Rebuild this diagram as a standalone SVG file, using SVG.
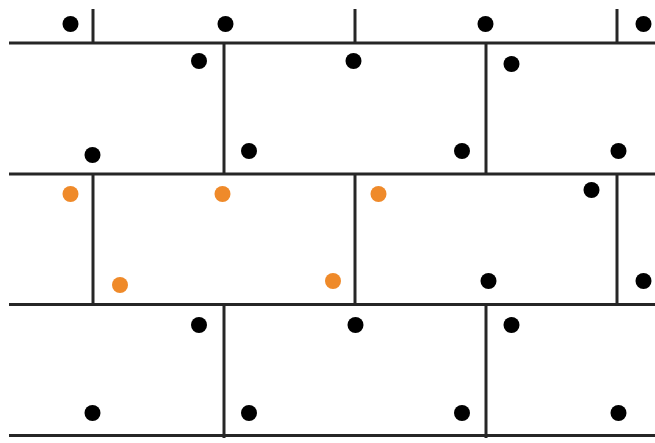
<svg xmlns="http://www.w3.org/2000/svg" width="655" height="443" viewBox="0 0 655 443">
<style>
.ln{stroke:#262626;stroke-width:3;fill:none}
.b{fill:#000}
.o{fill:#EF8A2A}
</style>
<rect width="655" height="443" fill="#fff"/>
<g id="mortar" class="ln">
<line x1="9" y1="43" x2="655" y2="43"/>
<line x1="9" y1="174" x2="655" y2="174"/>
<line x1="9" y1="304.5" x2="655" y2="304.5"/>
<line x1="9" y1="435.5" x2="655" y2="435.5"/>
<line x1="93" y1="9" x2="93" y2="43"/>
<line x1="355" y1="9" x2="355" y2="43"/>
<line x1="617" y1="9" x2="617" y2="43"/>
<line x1="224" y1="43" x2="224" y2="174"/>
<line x1="486" y1="43" x2="486" y2="174"/>
<line x1="93" y1="174" x2="93" y2="304.5"/>
<line x1="355" y1="174" x2="355" y2="304.5"/>
<line x1="617" y1="174" x2="617" y2="304.5"/>
<line x1="224" y1="304.5" x2="224" y2="438"/>
<line x1="486" y1="304.5" x2="486" y2="438"/>
</g>
<g id="dots-row0" class="b">
<circle cx="70.5" cy="24" r="8"/>
<circle cx="225.5" cy="24" r="8"/>
<circle cx="485.5" cy="24" r="8"/>
<circle cx="643.5" cy="24" r="8"/>
</g>
<g id="dots-row1" class="b">
<circle cx="199" cy="61" r="8"/>
<circle cx="92.5" cy="155" r="8"/>
<circle cx="249" cy="151" r="8"/>
<circle cx="353.5" cy="61" r="8"/>
<circle cx="462" cy="151" r="8"/>
<circle cx="511.5" cy="64" r="8"/>
<circle cx="618.5" cy="151" r="8"/>
</g>
<g id="dots-row2-orange" class="o">
<circle cx="70.5" cy="194" r="8"/>
<circle cx="222.5" cy="194" r="8"/>
<circle cx="120" cy="285" r="8"/>
<circle cx="333" cy="281" r="8"/>
<circle cx="378.5" cy="194" r="8"/>
</g>
<g id="dots-row2" class="b">
<circle cx="591.5" cy="190" r="8"/>
<circle cx="488.5" cy="281" r="8"/>
<circle cx="643.5" cy="281" r="8"/>
</g>
<g id="dots-row3" class="b">
<circle cx="199" cy="325" r="8"/>
<circle cx="92.5" cy="413" r="8"/>
<circle cx="249" cy="413" r="8"/>
<circle cx="355.5" cy="325" r="8"/>
<circle cx="462" cy="413" r="8"/>
<circle cx="511.5" cy="325" r="8"/>
<circle cx="618.5" cy="413" r="8"/>
</g>
</svg>
